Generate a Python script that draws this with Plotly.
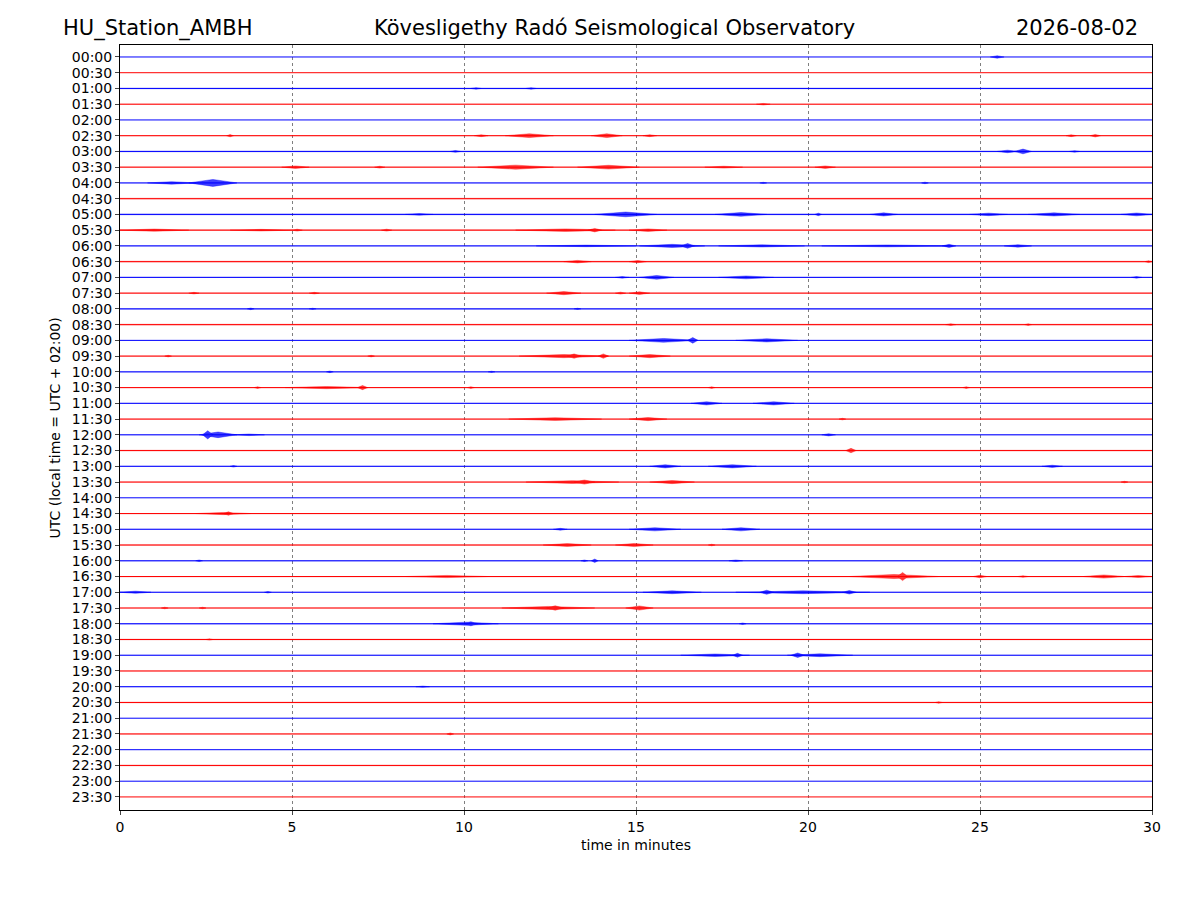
import plotly.graph_objects as go

# helicorder rows: one row per 30 minutes, top to bottom
row_labels = ['%02d:%02d' % (h, m) for h in range(24) for m in (0, 30)]
row_colors = ['blue', 'red'] * 24

# background noise half-height per row (in row spacings)
row_noise = [0.02, 0.02, 0.05, 0.03, 0.02, 0.04, 0.05, 0.04,
             0.03, 0.05, 0.05, 0.06, 0.04, 0.05, 0.04, 0.04,
             0.05, 0.05, 0.03, 0.04, 0.04, 0.04, 0.03, 0.04,
             0.03, 0.05, 0.04, 0.04, 0.02, 0.04, 0.03, 0.05,
             0.04, 0.04, 0.03, 0.03, 0.04, 0.05, 0.03, 0.03,
             0.04, 0.05, 0.02, 0.04, 0.02, 0.05, 0.02, 0.02]

# bursts: (row, start min, end min, half-amplitude)
events = [
    (0, 25.3, 25.7, 0.08),
    (2, 10.2, 10.5, 0.05), (2, 11.8, 12.1, 0.05),
    (3, 18.5, 18.9, 0.05),
    (5, 3.1, 3.3, 0.07), (5, 10.3, 10.7, 0.06), (5, 11.2, 12.6, 0.12), (5, 13.7, 14.6, 0.12),
    (5, 15.2, 15.6, 0.06), (5, 27.5, 27.8, 0.06), (5, 28.2, 28.5, 0.08),
    (6, 9.6, 9.9, 0.06), (6, 25.5, 26.1, 0.08), (6, 26.0, 26.5, 0.15), (6, 27.6, 27.9, 0.05),
    (7, 4.7, 5.5, 0.08), (7, 7.4, 7.7, 0.06), (7, 10.4, 12.6, 0.13), (7, 13.3, 15.1, 0.12),
    (7, 17.0, 18.1, 0.06), (7, 20.2, 20.8, 0.08),
    (8, 0.8, 2.2, 0.08), (8, 2.0, 3.4, 0.22), (8, 18.6, 18.8, 0.04), (8, 23.3, 23.5, 0.05),
    (10, 8.3, 9.1, 0.05), (10, 13.8, 15.6, 0.15), (10, 17.3, 18.8, 0.12), (10, 20.2, 20.4, 0.08),
    (10, 21.8, 22.6, 0.1), (10, 24.7, 25.8, 0.08), (10, 26.4, 27.9, 0.1), (10, 29.1, 30.0, 0.09),
    (11, 0.0, 2.0, 0.07), (11, 3.2, 5.0, 0.05), (11, 5.0, 5.3, 0.06), (11, 7.6, 7.9, 0.06),
    (11, 11.5, 14.4, 0.08), (11, 13.6, 14.0, 0.11), (11, 14.8, 15.9, 0.08),
    (12, 12.1, 15.0, 0.05), (12, 15.1, 17.0, 0.1), (12, 16.3, 16.7, 0.15), (12, 17.4, 19.9, 0.07),
    (12, 20.4, 24.2, 0.06), (12, 23.9, 24.3, 0.1), (12, 25.7, 26.5, 0.08),
    (13, 12.9, 13.7, 0.08), (13, 14.8, 15.3, 0.07), (13, 29.8, 30.0, 0.06),
    (14, 14.4, 14.8, 0.05), (14, 15.1, 16.1, 0.12), (14, 17.4, 19.0, 0.09), (14, 29.4, 29.7, 0.05),
    (15, 2.0, 2.3, 0.05), (15, 5.5, 5.8, 0.05), (15, 12.4, 13.4, 0.1), (15, 14.4, 14.7, 0.06),
    (15, 14.8, 15.4, 0.08),
    (16, 3.7, 3.9, 0.05), (16, 5.5, 5.7, 0.04), (16, 13.2, 13.4, 0.04),
    (17, 24.0, 24.3, 0.05), (17, 26.3, 26.5, 0.05),
    (18, 14.8, 16.8, 0.12), (18, 16.5, 16.8, 0.18), (18, 17.9, 19.7, 0.1),
    (19, 1.3, 1.5, 0.05), (19, 7.2, 7.4, 0.05), (19, 11.6, 14.2, 0.1), (19, 13.0, 13.4, 0.14),
    (19, 13.9, 14.2, 0.14), (19, 14.8, 16.0, 0.1),
    (20, 6.0, 6.2, 0.05), (20, 10.7, 10.9, 0.04),
    (21, 3.9, 4.1, 0.05), (21, 4.8, 7.2, 0.07), (21, 6.9, 7.2, 0.13), (21, 10.1, 10.3, 0.05),
    (21, 17.1, 17.3, 0.05), (21, 24.5, 24.7, 0.05),
    (22, 16.6, 17.5, 0.1), (22, 18.4, 19.6, 0.1),
    (23, 11.3, 14.0, 0.09), (23, 14.8, 15.9, 0.1), (23, 20.9, 21.1, 0.05),
    (24, 2.3, 3.4, 0.18), (24, 2.4, 2.7, 0.26), (24, 3.3, 4.2, 0.05), (24, 20.4, 20.8, 0.07),
    (25, 21.1, 21.4, 0.14),
    (26, 3.2, 3.4, 0.05), (26, 15.4, 16.3, 0.1), (26, 17.1, 18.5, 0.1), (26, 26.8, 27.4, 0.07),
    (27, 11.8, 14.5, 0.09), (27, 13.2, 13.8, 0.13), (27, 15.4, 16.7, 0.1), (27, 29.1, 29.3, 0.05),
    (29, 2.2, 3.8, 0.07), (29, 3.0, 3.3, 0.11),
    (30, 12.6, 13.0, 0.06), (30, 14.8, 16.3, 0.1), (30, 17.5, 18.6, 0.1),
    (31, 12.3, 13.7, 0.09), (31, 14.4, 15.5, 0.1), (31, 17.1, 17.3, 0.05),
    (32, 2.2, 2.4, 0.05), (32, 13.4, 13.6, 0.05), (32, 13.7, 13.9, 0.11), (32, 17.7, 18.1, 0.05),
    (33, 8.3, 10.7, 0.07), (33, 21.2, 23.8, 0.13), (33, 22.6, 22.9, 0.26), (33, 24.8, 25.2, 0.08),
    (33, 26.1, 26.4, 0.05), (33, 28.0, 29.2, 0.1), (33, 29.2, 30.0, 0.06),
    (34, 0.0, 0.9, 0.07), (34, 4.2, 4.4, 0.05), (34, 15.2, 16.9, 0.09), (34, 17.9, 21.8, 0.09),
    (34, 18.6, 19.0, 0.13), (34, 21.0, 21.4, 0.11),
    (35, 1.2, 1.4, 0.05), (35, 2.3, 2.5, 0.05), (35, 11.1, 13.8, 0.1), (35, 12.4, 12.9, 0.14),
    (35, 14.7, 15.5, 0.13),
    (36, 9.1, 11.0, 0.1), (36, 10.0, 10.4, 0.13), (36, 18.0, 18.2, 0.05),
    (37, 2.5, 2.7, 0.04),
    (38, 16.3, 18.3, 0.08), (38, 17.8, 18.1, 0.12), (38, 19.4, 21.3, 0.09), (38, 19.5, 19.9, 0.14),
    (40, 8.6, 9.0, 0.04),
    (41, 23.7, 23.9, 0.05),
    (43, 9.5, 9.7, 0.06),
]

x_ticks = [0, 5, 10, 15, 20, 25, 30]
rgb = {'blue': '0,0,255', 'red': '255,0,0'}

fig = go.Figure()

for col in ('blue', 'red'):
    # noise band + trace line per row
    bx, by, lx, ly = [], [], [], []
    for i, c in enumerate(row_colors):
        if c != col:
            continue
        n = row_noise[i]
        bx += [0, 30, 30, 0, 0, None]
        by += [-i + n, -i + n, -i - n, -i - n, -i + n, None]
        lx += [0, 30, None]
        ly += [-i, -i, None]
    fig.add_trace(go.Scatter(x=bx, y=by, mode='lines', fill='toself',
                             fillcolor='rgba(%s,0.3)' % rgb[col],
                             line=dict(width=0), hoverinfo='skip', showlegend=False))
    fig.add_trace(go.Scatter(x=lx, y=ly, mode='lines',
                             line=dict(color=col, width=1), hoverinfo='skip', showlegend=False))

    # bursts as spindles
    ex, ey = [], []
    for r, t0, t1, a in events:
        if row_colors[r] != col:
            continue
        tm = (t0 + t1) / 2
        ex += [t0, tm, t1, tm, t0, None]
        ey += [-r, -r + a, -r, -r - a, -r, None]
    fig.add_trace(go.Scatter(x=ex, y=ey, mode='lines', fill='toself',
                             fillcolor='rgba(%s,0.75)' % rgb[col],
                             line=dict(color='rgba(%s,0.75)' % rgb[col], width=0.5),
                             hoverinfo='skip', showlegend=False))

fig.update_layout(
    width=1200, height=900,
    margin=dict(l=112, r=56, t=37, b=98),
    plot_bgcolor='white', paper_bgcolor='white',
    font=dict(family='DejaVu Sans', size=14, color='black'),
    xaxis=dict(range=[0, 30], tickvals=x_ticks, ticks='outside', ticklen=4,
               showline=True, linecolor='black', linewidth=1, mirror=True,
               showgrid=True, gridcolor='rgba(0,0,0,0.5)', griddash='dot', gridwidth=0.6,
               zeroline=False, tickfont=dict(size=14)),
    yaxis=dict(range=[-47.83, 0.76], tickvals=[-i for i in range(48)], ticktext=row_labels,
               ticks='outside', ticklen=4, showline=True, linecolor='black', linewidth=1,
               mirror=True, showgrid=False, zeroline=False, tickfont=dict(size=14)),
    annotations=[
        dict(text='HU_Station_AMBH', x=-0.0572, y=1.022, xref='paper', yref='paper',
             xanchor='left', yanchor='middle', showarrow=False, font=dict(size=21)),
        dict(text='Kövesligethy Radó Seismological Observatory', x=0.4787, y=1.022,
             xref='paper', yref='paper', xanchor='center', yanchor='middle',
             showarrow=False, font=dict(size=21)),
        dict(text='2026-08-02', x=0.9884, y=1.022, xref='paper', yref='paper',
             xanchor='right', yanchor='middle', showarrow=False, font=dict(size=21)),
        dict(text='time in minutes', x=0.5, y=-0.046, xref='paper', yref='paper',
             xanchor='center', yanchor='middle', showarrow=False, font=dict(size=14)),
        dict(text='UTC (local time = UTC + 02:00)', x=-0.063, y=0.5, xref='paper',
             yref='paper', xanchor='center', yanchor='middle', textangle=-90,
             showarrow=False, font=dict(size=14)),
    ],
)

fig.write_html('out.html')
